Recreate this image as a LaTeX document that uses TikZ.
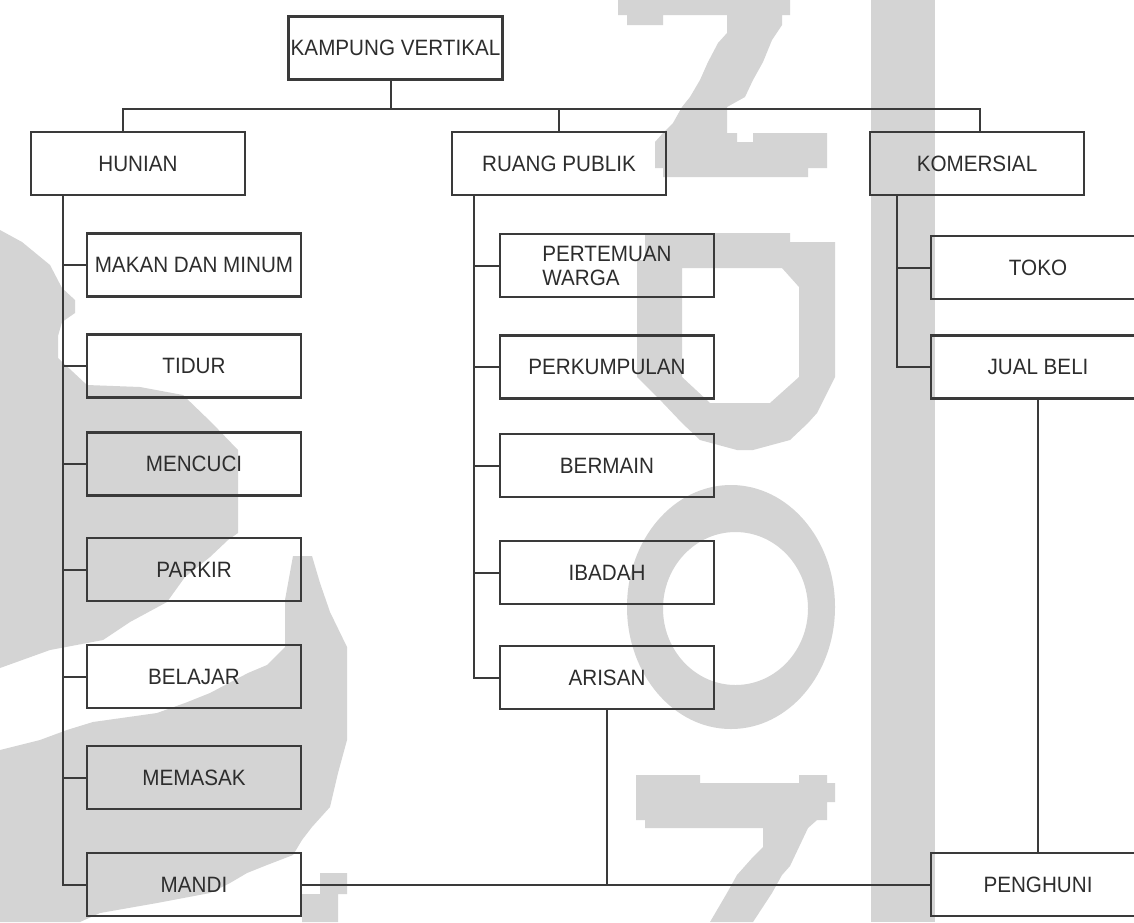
\documentclass[tikz,border=0pt]{standalone}
\usepackage{fontspec}
\setmainfont{Liberation Sans}[FakeStretch=0.93]
\usetikzlibrary{calc}

\definecolor{wmgrey}{RGB}{212,212,212}
\definecolor{boxline}{RGB}{58,58,58}
\definecolor{labeltext}{RGB}{45,45,45}

\tikzset{
  box/.style={draw=boxline, line width=1.3pt, minimum width=107pt, minimum height=31.5pt,
    inner sep=0pt, text=labeltext, font=\fontsize{11.1pt}{12pt}\selectfont},
  link/.style={draw=boxline, line width=1pt},
  wm/.style={fill=wmgrey, draw=none}
}

\begin{document}
\begin{tikzpicture}[x=0.5pt,y=-0.5pt]

\useasboundingbox (0,0) rectangle (1134,922);
\clip (0,0) rectangle (1134,922);
\fill[white] (0,0) rectangle (1134,922);

% watermark behind the chart
\fill[wm] (0,230) -- (22,242) -- (50,265) -- (62,288) -- (75,300) -- (75,313) -- (62,322) -- (58,336) -- (58,358) -- (87,385) -- (140,387) -- (183,395) -- (212,423) -- (238,450) -- (238,533) -- (228,540) -- (210,557) -- (185,577) -- (167,602) -- (130,622) -- (103,640) -- (50,650) -- (0,668) -- cycle;
\fill[wm] (0,750) -- (40,740) -- (67,730) -- (93,722) -- (157,713) -- (185,703) -- (210,693) -- (248,673) -- (267,665) -- (285,647) -- (285,600) -- (293,556) -- (312,556) -- (320,583) -- (330,612) -- (347,647) -- (347,740) -- (338,773) -- (330,807) -- (312,827) -- (302,840) -- (293,855) -- (267,865) -- (247,873) -- (230,883) -- (210,893) -- (157,903) -- (100,913) -- (80,922) -- (0,922) -- cycle;
\fill[wm] (320,873) -- (347,873) -- (347,894) -- (338,894) -- (338,922) -- (302,922) -- (302,894) -- (320,894) -- cycle;
\fill[wm] (618,0) -- (790,0) -- (790,15) -- (782,15) -- (782,25) -- (772,40) -- (763,62) -- (753,80) -- (745,97) -- (727,107) -- (727,133) -- (737,133) -- (737,142) -- (753,142) -- (753,133) -- (827,133) -- (827,168) -- (808,168) -- (808,177) -- (663,177) -- (663,168) -- (655,168) -- (655,142) -- (663,133) -- (673,123) -- (682,107) -- (690,97) -- (700,80) -- (708,62) -- (718,43) -- (727,33) -- (727,15) -- (663,15) -- (663,25) -- (627,25) -- (627,15) -- (618,15) -- cycle;
\fill[wm, even odd rule] (645,233) -- (790,233) -- (790,242) -- (835,242) -- (835,377) -- (827,393) -- (817,413) -- (808,423) -- (790,440) -- (753,450) -- (737,450) -- (700,440) -- (682,423) -- (663,403) -- (653,393) -- (637,377) -- (637,260) -- (645,260) -- cycle
  (682,268) -- (782,268) -- (799,287) -- (799,377) -- (770,403) -- (710,403) -- (682,377) -- cycle;
\fill[wm, even odd rule] (731,607) ellipse [x radius=104, y radius=122] (735.5,608.5) ellipse [x radius=72.5, y radius=76.5];
\fill[wm] (636,775) -- (700,775) -- (700,783) -- (799,783) -- (799,775) -- (827,775) -- (827,783) -- (835,783) -- (835,802) -- (827,802) -- (827,820) -- (817,820) -- (808,828) -- (799,847) -- (790,866) -- (782,875) -- (772,893) -- (753,922) -- (710,922) -- (727,893) -- (737,875) -- (753,857) -- (763,847) -- (763,828) -- (645,828) -- (645,820) -- (636,820) -- cycle;
\fill[wm] (871,0) rectangle (935,922);

% boxes
\node[box] (kv) at (395.5,48) {KAMPUNG VERTIKAL};

\node[box] (hunian) at (138,163.5) {HUNIAN};
\node[box] (publik) at (559,163.5) {RUANG PUBLIK};
\node[box] (komersial) at (977,163.5) {KOMERSIAL};

\node[box] (makan) at (194,265) {MAKAN DAN MINUM};
\node[box] (tidur) at (194,366) {TIDUR};
\node[box] (mencuci) at (194,464) {MENCUCI};
\node[box] (parkir) at (194,569.5) {PARKIR};
\node[box] (belajar) at (194,676.5) {BELAJAR};
\node[box] (memasak) at (194,777.5) {MEMASAK};
\node[box] (mandi) at (194,884.5) {MANDI};

\node[box, align=left] (pertemuan) at (607,265.5) {PERTEMUAN\\WARGA};
\node[box] (perkumpulan) at (607,367) {PERKUMPULAN};
\node[box] (bermain) at (607,465.5) {BERMAIN};
\node[box] (ibadah) at (607,572.5) {IBADAH};
\node[box] (arisan) at (607,677.5) {ARISAN};

\node[box] (toko) at (1038,267.5) {TOKO};
\node[box] (jualbeli) at (1038,367) {JUAL BELI};
\node[box] (penghuni) at (1038,884.5) {PENGHUNI};

% top level
\coordinate (bus) at (391,109);
\coordinate (hstem) at (123,109);
\coordinate (kstem) at (980,109);
\draw[link] (kv.south -| bus) -- (bus);
\draw[link] (hunian.north -| hstem) -- (hstem) -- (kstem) -- (komersial.north -| kstem);
\draw[link] (publik.north) -- (publik.north |- bus);

% hunian
\coordinate (hspine) at (63,195);
\draw[link] (hspine) |- (mandi.west);
\draw[link] (makan.west) -- (makan.west -| hspine);
\draw[link] (tidur.west) -- (tidur.west -| hspine);
\draw[link] (mencuci.west) -- (mencuci.west -| hspine);
\draw[link] (parkir.west) -- (parkir.west -| hspine);
\draw[link] (belajar.west) -- (belajar.west -| hspine);
\draw[link] (memasak.west) -- (memasak.west -| hspine);

% ruang publik
\coordinate (pspine) at (474,195);
\draw[link] (pspine) |- (arisan.west);
\draw[link] (pertemuan.west) -- (pertemuan.west -| pspine);
\draw[link] (perkumpulan.west) -- (perkumpulan.west -| pspine);
\draw[link] (bermain.west) -- (bermain.west -| pspine);
\draw[link] (ibadah.west) -- (ibadah.west -| pspine);

% komersial
\coordinate (kspine) at (897,195);
\draw[link] (kspine) |- (jualbeli.west);
\draw[link] (toko.west) -- (toko.west -| kspine);

% penghuni
\draw[link] (mandi.east) -- (penghuni.west);
\draw[link] (arisan.south) -- (arisan.south |- penghuni.west);
\draw[link] (jualbeli.south) -- (penghuni.north);

\end{tikzpicture}
\end{document}
